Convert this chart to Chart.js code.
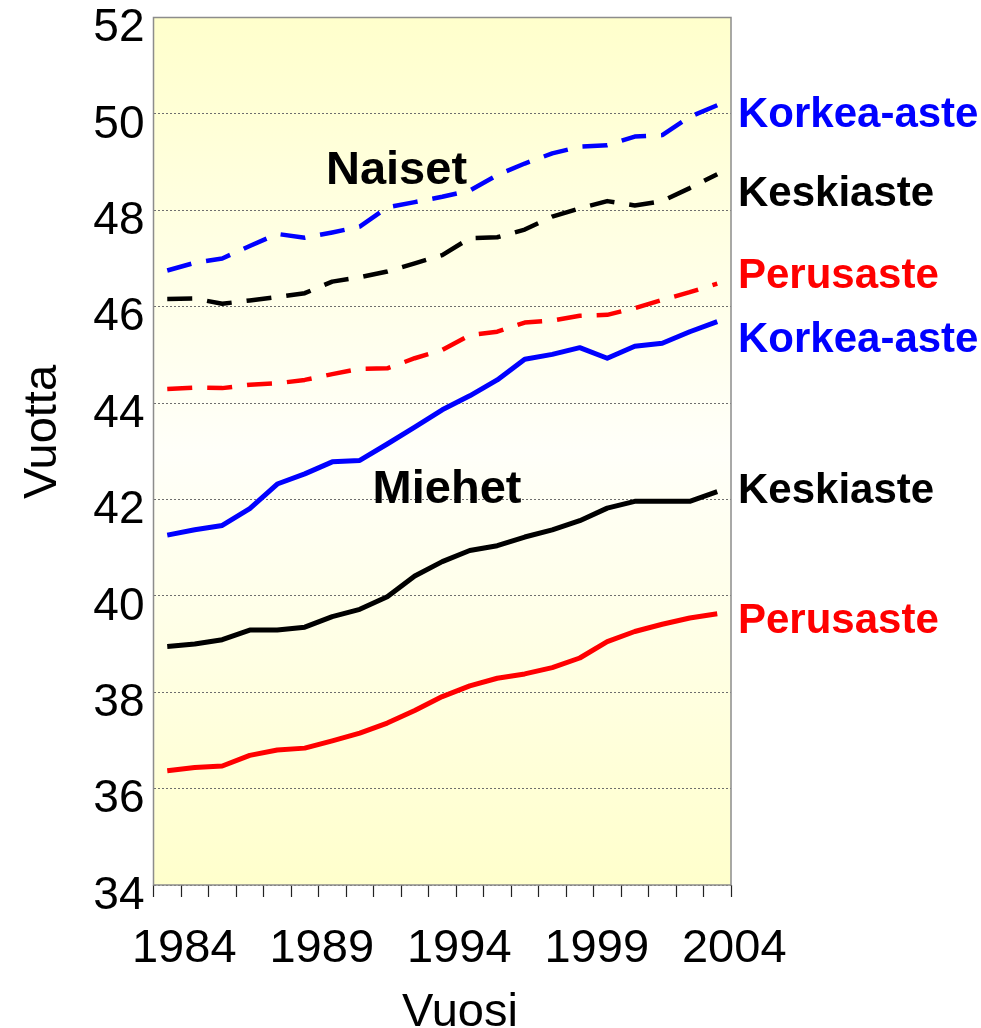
<!DOCTYPE html>
<html><head><meta charset="utf-8">
<script src="https://cdn.jsdelivr.net/npm/chart.js@4.4.0/dist/chart.umd.min.js"></script>
<style>html,body{margin:0;padding:0;background:#fff;overflow:hidden}</style>
</head><body>
<canvas id="c" width="981" height="1028"></canvas>
<script>
const years = ['1984','1985','1986','1987','1988','1989','1990','1991','1992','1993','1994',
               '1995','1996','1997','1998','1999','2000','2001','2002','2003','2004'];
const xTickLabels = ['1984','1989','1994','1999','2004'];

const naisetKorkea = [46.75,46.91,47.00,47.26,47.51,47.43,47.54,47.66,48.06,48.17,48.28,48.41,48.73,48.97,49.18,49.32,49.35,49.53,49.56,49.94,50.18];
const naisetKeski  = [46.16,46.17,46.06,46.13,46.20,46.28,46.52,46.61,46.73,46.90,47.07,47.42,47.44,47.60,47.87,48.04,48.19,48.10,48.19,48.46,48.75];
const naisetPerus  = [44.29,44.32,44.31,44.38,44.41,44.48,44.60,44.71,44.72,44.93,45.10,45.41,45.48,45.67,45.71,45.81,45.83,45.97,46.14,46.30,46.48];
const miehetKorkea = [41.26,41.37,41.46,41.81,42.32,42.53,42.78,42.81,43.15,43.50,43.86,44.15,44.48,44.91,45.01,45.15,44.93,45.18,45.24,45.48,45.69];
const miehetKeski  = [38.95,39.00,39.09,39.29,39.29,39.35,39.57,39.72,39.98,40.41,40.71,40.94,41.04,41.22,41.37,41.56,41.82,41.96,41.96,41.96,42.16];
const miehetPerus  = [36.37,36.44,36.47,36.69,36.80,36.84,36.99,37.15,37.36,37.62,37.91,38.13,38.29,38.38,38.51,38.71,39.05,39.26,39.41,39.54,39.63];

const yMin = 34, yMax = 52, yStep = 2;

const seriesLabels = ['Korkea-aste','Keskiaste','Perusaste','Korkea-aste','Keskiaste','Perusaste'];
const groupLabels = ['Naiset','Miehet'];
const xTitle = 'Vuosi';
const yTitle = 'Vuotta';

const FONT = '"Liberation Sans", Arial, Helvetica, sans-serif';
const BLUE = '#0000FF', RED = '#FF0000', BLACK = '#000000';

function ds(label, data, color, dashed) {
  return {
    label, data,
    borderColor: color,
    borderWidth: dashed ? 4.5 : 5,
    borderDash: dashed ? [25, 15] : [],
    borderCapStyle: 'butt',
    borderJoinStyle: 'round',
    pointRadius: 0,
    tension: 0,
    fill: false
  };
}

const decorPlugin = {
  id: 'decor',
  beforeDraw(chart) {
    const {ctx, chartArea: a} = chart;
    const g = ctx.createLinearGradient(0, a.top, 0, a.bottom);
    g.addColorStop(0, '#FFFFCC');
    g.addColorStop(0.5, '#FFFFF9');
    g.addColorStop(1, '#FFFFCC');
    ctx.save();
    ctx.fillStyle = g;
    ctx.fillRect(a.left, a.top, a.right - a.left, a.bottom - a.top);
    ctx.restore();
  },
  beforeDatasetsDraw(chart) {
    const {ctx, chartArea: a} = chart;
    ctx.save();
    ctx.strokeStyle = '#8C8C8C';
    ctx.lineWidth = 1.5;
    ctx.strokeRect(a.left, a.top, a.right - a.left, a.bottom - a.top);
    ctx.restore();
  },
  afterDraw(chart) {
    const {ctx, chartArea: a} = chart;
    const y = chart.scales.y;
    ctx.save();
    // right-side series labels, anchored to value positions
    const anchors = [50.05, 48.40, 46.70, 45.38, 42.24, 39.54];
    const colors = [BLUE, BLACK, RED, BLUE, BLACK, RED];
    const f = 42;
    ctx.font = 'bold ' + f + 'px ' + FONT;
    ctx.textAlign = 'left';
    ctx.textBaseline = 'alphabetic';
    seriesLabels.forEach((t, i) => {
      ctx.fillStyle = colors[i];
      ctx.fillText(t, a.right + 7, y.getPixelForValue(anchors[i]) + f * 0.358);
    });
    // group labels
    const g = 47;
    ctx.font = 'bold ' + g + 'px ' + FONT;
    ctx.textAlign = 'center';
    ctx.fillStyle = BLACK;
    ctx.fillText(groupLabels[0], 396.5, 184);
    ctx.fillText(groupLabels[1], 447, 503);
    // axis titles
    ctx.font = '47px ' + FONT;
    ctx.fillText(xTitle, 460, 1026);
    ctx.translate(56, 432);
    ctx.rotate(-Math.PI / 2);
    ctx.fillText(yTitle, 0, 0);
    ctx.restore();
  }
};

new Chart(document.getElementById('c'), {
  type: 'line',
  data: {
    labels: years,
    datasets: [
      ds('Naiset Korkea-aste', naisetKorkea, BLUE, true),
      ds('Naiset Keskiaste', naisetKeski, BLACK, true),
      ds('Naiset Perusaste', naisetPerus, RED, true),
      ds('Miehet Korkea-aste', miehetKorkea, BLUE, false),
      ds('Miehet Keskiaste', miehetKeski, BLACK, false),
      ds('Miehet Perusaste', miehetPerus, RED, false)
    ]
  },
  options: {
    responsive: false,
    devicePixelRatio: 1,
    animation: false,
    layout: { padding: { top: 17.5, right: 250, left: 0, bottom: 0 } },
    plugins: { legend: { display: false }, tooltip: { enabled: false } },
    scales: {
      x: {
        type: 'category',
        offset: true,
        grid: { display: true, drawOnChartArea: false, drawTicks: true, tickLength: 12, tickColor: '#222', offset: true, tickWidth: 1.2 },
        border: { display: false },
        ticks: {
          autoSkip: false, maxRotation: 0, minRotation: 0,
          padding: 24, labelOffset: 17, color: '#000',
          font: { family: FONT, size: 47 },
          callback(v, i) { const l = this.getLabelForValue(v); return xTickLabels.includes(l) ? l : ''; }
        },
        afterFit(s) { s.height = 143; s.paddingLeft = 0; s.paddingRight = 0; }
      },
      y: {
        min: yMin, max: yMax,
        grid: { color: '#6E6E6E', lineWidth: 1, drawTicks: false },
        border: { display: false, dash: [2, 2] },
        ticks: {
          stepSize: yStep, padding: 9, labelOffset: 11, color: '#000',
          font: { family: FONT, size: 46 }
        },
        afterFit(s) { s.width = 153.5; s.paddingTop = 0; s.paddingBottom = 0; }
      }
    }
  },
  plugins: [decorPlugin]
});
</script>
</body></html>
